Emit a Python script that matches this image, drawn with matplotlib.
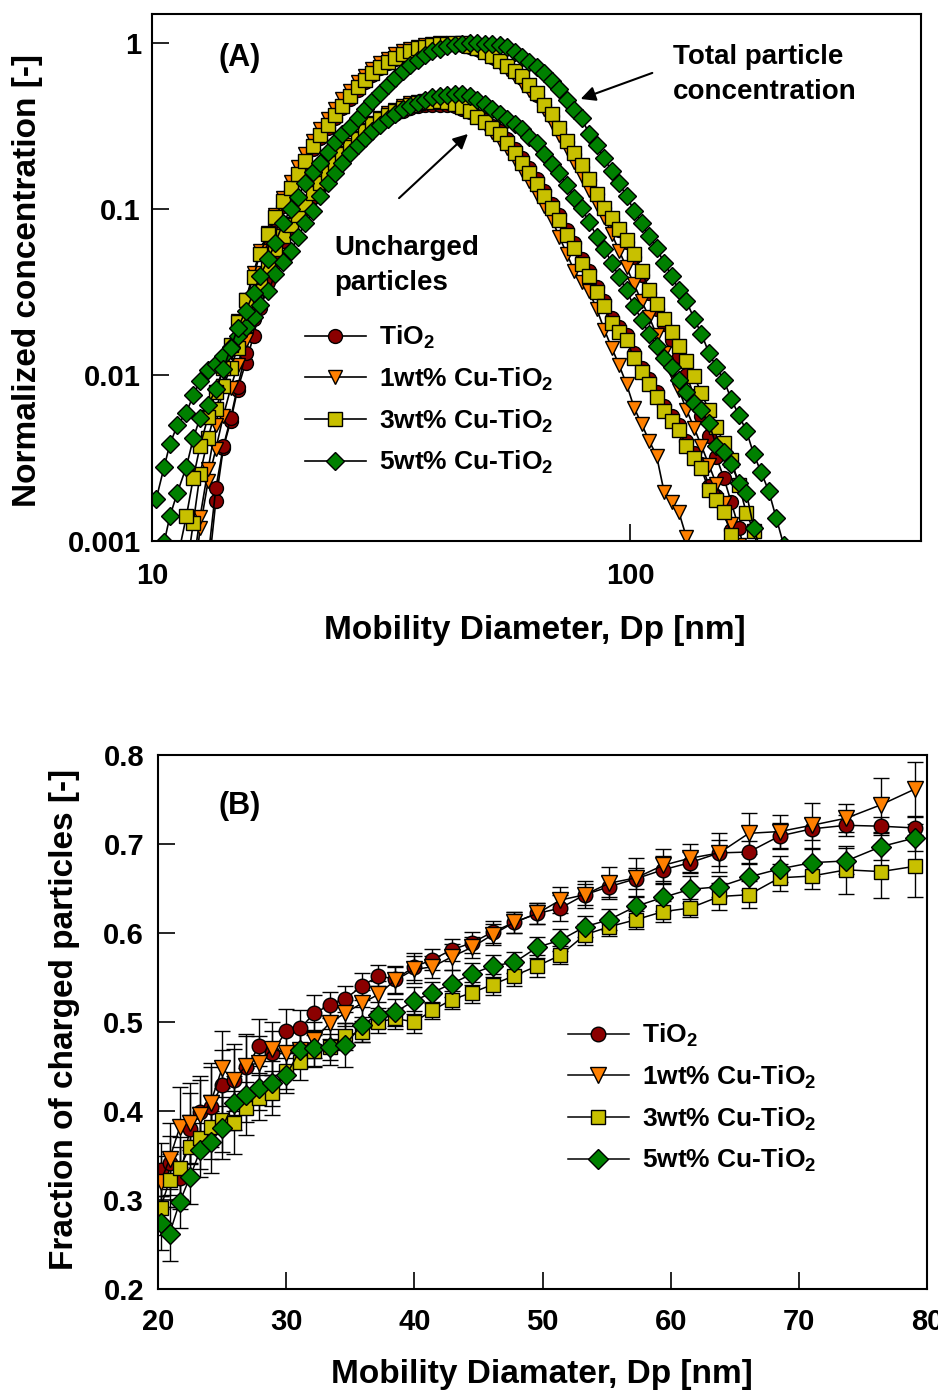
import matplotlib
matplotlib.use("Agg")
import matplotlib.pyplot as plt
from matplotlib.ticker import NullLocator
import numpy as np

plt.rcParams['font.family'] = ['Liberation Sans', 'DejaVu Sans']
plt.rcParams['font.weight'] = 'bold'
plt.rcParams['mathtext.fontset'] = 'custom'
plt.rcParams['mathtext.rm'] = 'Liberation Sans:bold'
plt.rcParams['mathtext.bf'] = 'Liberation Sans:bold'
plt.rcParams['mathtext.default'] = 'bf'

# SMPS channel midpoints [nm]
dp_a = [10.2, 10.6, 10.9, 11.3, 11.8, 12.2, 12.6, 13.1, 13.6, 14.1, 14.6, 15.1, 15.7, 16.3, 16.8,
        17.5, 18.1, 18.8, 19.5, 20.2, 20.9, 21.7, 22.5, 23.3, 24.1, 25.0, 25.9, 26.9, 27.9, 28.9,
        30.0, 31.1, 32.2, 33.4, 34.6, 35.9, 37.2, 38.5, 40.0, 41.4, 42.9, 44.5, 46.1, 47.8, 49.6,
        51.4, 53.3, 55.2, 57.3, 59.4, 61.5, 63.8, 66.1, 68.5, 71.0, 73.7, 76.4, 79.1, 82.0, 85.1,
        88.2, 91.4, 94.7, 98.2, 101.8, 105.5, 109.4, 113.4, 117.6, 121.9, 126.3, 131.0, 135.8,
        140.7, 145.9, 151.2, 156.8, 162.5, 168.5, 174.7, 181.1, 187.7, 194.6, 201.7, 209.1]

labels = ['TiO$_2$', '1wt% Cu-TiO$_2$', '3wt% Cu-TiO$_2$', '5wt% Cu-TiO$_2$']
colors = ['#8b0000', '#ff8000', '#c8c000', '#008000']
markers = ['o', 'v', 's', 'D']

# panel A: normalized concentration, first channel index of each series
tot_tio2_first = 7
tot_tio2 = [0.00079, 0.00209, 0.00372, 0.00550, 0.00851, 0.0135, 0.0219, 0.0363, 0.0589, 0.0804,
            0.105, 0.129, 0.158, 0.191, 0.232, 0.269, 0.309, 0.355, 0.407, 0.462, 0.525, 0.582,
            0.646, 0.705, 0.755, 0.807, 0.851, 0.891, 0.929, 0.955, 0.977, 0.993, 1.0, 0.995,
            0.982, 0.951, 0.920, 0.881, 0.828, 0.776, 0.724, 0.668, 0.617, 0.550, 0.490, 0.422,
            0.363, 0.305, 0.254, 0.214, 0.180, 0.150, 0.123, 0.101, 0.0871, 0.0750, 0.0638,
            0.0513, 0.0401, 0.0313, 0.0251, 0.0202, 0.0162, 0.0131, 0.0100, 0.00753, 0.00569,
            0.00430, 0.00321, 0.00240, 0.00171, 0.00120, 0.00078]
tot_1wt_first = 5
tot_1wt = [0.00071, 0.00139, 0.00271, 0.00501, 0.00861, 0.0138, 0.0212, 0.0285, 0.0414, 0.0556,
           0.0719, 0.0920, 0.116, 0.145, 0.179, 0.216, 0.257, 0.302, 0.349, 0.404, 0.458, 0.516,
           0.581, 0.638, 0.702, 0.759, 0.805, 0.857, 0.894, 0.927, 0.955, 0.973, 0.991, 1.0,
           0.993, 0.982, 0.966, 0.940, 0.910, 0.869, 0.811, 0.759, 0.703, 0.638, 0.579, 0.526,
           0.479, 0.399, 0.334, 0.280, 0.234, 0.193, 0.159, 0.131, 0.108, 0.0891, 0.0710, 0.0562,
           0.0445, 0.0352, 0.0279, 0.0225, 0.0175, 0.0136, 0.0105, 0.00813, 0.00619, 0.00482,
           0.00376, 0.00288, 0.00221, 0.00170, 0.00127, 0.00094, 0.00071]
tot_3wt_first = 3
tot_3wt = [0.00078, 0.00141, 0.00240, 0.00372, 0.00562, 0.00794, 0.0111, 0.0151, 0.0209, 0.0282,
           0.0389, 0.0537, 0.0708, 0.0891, 0.112, 0.135, 0.162, 0.195, 0.240, 0.278, 0.321, 0.368,
           0.421, 0.479, 0.543, 0.598, 0.661, 0.718, 0.766, 0.817, 0.859, 0.898, 0.935, 0.955,
           0.977, 0.991, 0.995, 1.0, 0.998, 0.959, 0.931, 0.891, 0.836, 0.783, 0.733, 0.679,
           0.631, 0.562, 0.501, 0.427, 0.372, 0.310, 0.257, 0.217, 0.184, 0.151, 0.124, 0.102,
           0.0881, 0.0759, 0.0650, 0.0533, 0.0425, 0.0327, 0.0267, 0.0219, 0.0181, 0.0149,
           0.0122, 0.00989, 0.00780, 0.00614, 0.00488, 0.00389, 0.00309, 0.00219, 0.00148,
           0.00115, 0.00074]
tot_5wt_first = 0
tot_5wt = [0.00063, 0.00098, 0.00141, 0.00196, 0.00280, 0.00416, 0.00552, 0.00661, 0.00820,
           0.0109, 0.0145, 0.0191, 0.0244, 0.0311, 0.0395, 0.0498, 0.0627, 0.0824, 0.100, 0.119,
           0.144, 0.167, 0.191, 0.221, 0.253, 0.282, 0.313, 0.354, 0.400, 0.449, 0.502, 0.562,
           0.618, 0.679, 0.740, 0.796, 0.855, 0.895, 0.927, 0.962, 0.979, 0.989, 1.0, 0.998,
           0.995, 0.986, 0.971, 0.944, 0.891, 0.824, 0.773, 0.715, 0.664, 0.592, 0.528, 0.454,
           0.398, 0.352, 0.284, 0.242, 0.202, 0.169, 0.143, 0.120, 0.0977, 0.0826, 0.0686,
           0.0586, 0.0473, 0.0398, 0.0324, 0.0279, 0.0219, 0.0178, 0.0136, 0.0112, 0.00931,
           0.00716, 0.00573, 0.00462, 0.00333, 0.00259, 0.00200, 0.00138, 0.00095]

unc_tio2_first = 7
unc_tio2 = [0.00063, 0.00175, 0.00366, 0.00526, 0.00818, 0.0119, 0.0171, 0.0252, 0.0365, 0.0504,
            0.0646, 0.0762, 0.0877, 0.102, 0.119, 0.137, 0.158, 0.182, 0.204, 0.226, 0.252,
            0.281, 0.310, 0.333, 0.353, 0.372, 0.389, 0.407, 0.416, 0.422, 0.425, 0.427, 0.425,
            0.417, 0.403, 0.387, 0.365, 0.343, 0.318, 0.297, 0.263, 0.232, 0.204, 0.178, 0.152,
            0.129, 0.108, 0.0918, 0.0750, 0.0628, 0.0501, 0.0423, 0.0339, 0.0278, 0.0221,
            0.0195, 0.0175, 0.0136, 0.0111, 0.00942, 0.00791, 0.00649, 0.00565, 0.00498,
            0.00400, 0.00340, 0.00293, 0.00216, 0.00188, 0.00160, 0.00116, 0.00079]
unc_1wt_first = 5
unc_1wt = [0.00050, 0.00119, 0.00229, 0.00360, 0.00569, 0.00832, 0.0115, 0.0163, 0.0228, 0.0317,
           0.0432, 0.0573, 0.0708, 0.0817, 0.0940, 0.110, 0.128, 0.147, 0.170, 0.195, 0.219,
           0.243, 0.270, 0.301, 0.332, 0.356, 0.378, 0.398, 0.417, 0.435, 0.442, 0.447, 0.447,
           0.445, 0.437, 0.425, 0.407, 0.385, 0.359, 0.325, 0.292, 0.262, 0.233, 0.200, 0.172,
           0.148, 0.124, 0.104, 0.0869, 0.0682, 0.0536, 0.0421, 0.0365, 0.0319, 0.0249, 0.0188,
           0.0146, 0.0115, 0.00879, 0.00637, 0.00508, 0.00403, 0.00327, 0.00198, 0.00173,
           0.00149, 0.00105, 0.00065]
unc_3wt_first = 4
unc_3wt = [0.00066, 0.00129, 0.00253, 0.00417, 0.00625, 0.00861, 0.0110, 0.0145, 0.0200, 0.0268,
           0.0346, 0.0446, 0.0573, 0.0690, 0.0798, 0.0918, 0.107, 0.125, 0.144, 0.166, 0.191,
           0.214, 0.237, 0.264, 0.294, 0.324, 0.348, 0.370, 0.389, 0.407, 0.427, 0.436, 0.442,
           0.445, 0.447, 0.443, 0.433, 0.411, 0.389, 0.361, 0.333, 0.308, 0.285, 0.249, 0.217,
           0.191, 0.166, 0.142, 0.120, 0.101, 0.0857, 0.0700, 0.0586, 0.0468, 0.0394, 0.0316,
           0.0259, 0.0207, 0.0182, 0.0163, 0.0126, 0.0104, 0.00879, 0.00738, 0.00605, 0.00527,
           0.00465, 0.00373, 0.00318, 0.00274, 0.00202, 0.00176, 0.00149, 0.00109, 0.00071]
unc_5wt_first = 0
unc_5wt = [0.00178, 0.00279, 0.00384, 0.00499, 0.00593, 0.00757, 0.00920, 0.0108, 0.0117, 0.0131,
           0.0147, 0.0172, 0.0195, 0.0224, 0.0265, 0.0320, 0.0406, 0.0483, 0.0561, 0.0681,
           0.0822, 0.0968, 0.120, 0.143, 0.166, 0.191, 0.218, 0.243, 0.269, 0.295, 0.322, 0.349,
           0.376, 0.404, 0.421, 0.437, 0.456, 0.471, 0.483, 0.489, 0.493, 0.491, 0.479, 0.455,
           0.430, 0.401, 0.376, 0.350, 0.327, 0.303, 0.274, 0.249, 0.215, 0.187, 0.164, 0.139,
           0.117, 0.101, 0.0836, 0.0682, 0.0578, 0.0474, 0.0392, 0.0324, 0.0259, 0.0216, 0.0177,
           0.0149, 0.0126, 0.0112, 0.00940, 0.00793, 0.00678, 0.00612, 0.00515, 0.00375,
           0.00343, 0.00292, 0.00225, 0.00196, 0.00119, 0.00086]

# panel B: fraction of charged particles, channels 20.2 .. 79.1 nm
dp_b = dp_a[19:58]
frac_tio2 = [0.334, 0.342, 0.325, 0.380, 0.399, 0.405, 0.429, 0.435, 0.449, 0.473, 0.465, 0.490,
             0.493, 0.510, 0.519, 0.526, 0.540, 0.552, 0.548, 0.562, 0.570, 0.581, 0.589, 0.601,
             0.612, 0.622, 0.628, 0.643, 0.652, 0.661, 0.671, 0.679, 0.690, 0.691, 0.709, 0.717,
             0.721, 0.720, 0.718]
frac_1wt = [0.320, 0.346, 0.382, 0.387, 0.395, 0.409, 0.448, 0.435, 0.451, 0.454, 0.470, 0.465,
            0.469, 0.480, 0.499, 0.510, 0.521, 0.531, 0.547, 0.559, 0.562, 0.573, 0.584, 0.598,
            0.612, 0.622, 0.637, 0.643, 0.656, 0.662, 0.676, 0.684, 0.690, 0.712, 0.714, 0.721,
            0.729, 0.744, 0.762]
frac_3wt = [0.291, 0.322, 0.336, 0.360, 0.370, 0.382, 0.390, 0.387, 0.403, 0.415, 0.420, 0.445,
            0.455, 0.467, 0.472, 0.484, 0.489, 0.500, 0.504, 0.500, 0.513, 0.525, 0.533, 0.542,
            0.552, 0.563, 0.575, 0.598, 0.607, 0.615, 0.624, 0.628, 0.641, 0.643, 0.662, 0.664,
            0.671, 0.669, 0.675]
frac_5wt = [0.274, 0.262, 0.298, 0.326, 0.356, 0.365, 0.381, 0.409, 0.418, 0.426, 0.431, 0.440,
            0.469, 0.471, 0.472, 0.474, 0.497, 0.508, 0.511, 0.524, 0.533, 0.543, 0.554, 0.563,
            0.567, 0.584, 0.592, 0.607, 0.615, 0.630, 0.640, 0.649, 0.652, 0.663, 0.672, 0.679,
            0.681, 0.697, 0.707]
err_tio2 = [0.03, 0.03, 0.035, 0.04, 0.04, 0.045, 0.04, 0.035, 0.035, 0.03, 0.025, 0.025, 0.02,
            0.02, 0.015, 0.015, 0.015, 0.012, 0.015, 0.015, 0.012, 0.012, 0.012, 0.012, 0.012,
            0.012, 0.015, 0.012, 0.012, 0.012, 0.015, 0.012, 0.015, 0.012, 0.015, 0.012, 0.012,
            0.01, 0.012]
err_1wt = [0.03, 0.04, 0.045, 0.045, 0.04, 0.045, 0.042, 0.04, 0.035, 0.03, 0.03, 0.025, 0.02,
           0.02, 0.018, 0.015, 0.015, 0.015, 0.015, 0.015, 0.012, 0.015, 0.012, 0.012, 0.012,
           0.012, 0.015, 0.015, 0.018, 0.022, 0.018, 0.016, 0.022, 0.023, 0.019, 0.025, 0.016,
           0.03, 0.03]
err_3wt = [0.03, 0.03, 0.035, 0.035, 0.035, 0.036, 0.036, 0.035, 0.03, 0.025, 0.025, 0.02, 0.02,
           0.018, 0.015, 0.015, 0.012, 0.012, 0.012, 0.012, 0.01, 0.01, 0.012, 0.012, 0.012,
           0.012, 0.01, 0.012, 0.01, 0.01, 0.012, 0.01, 0.015, 0.015, 0.015, 0.015, 0.027, 0.03,
           0.035]
err_5wt = [0.03, 0.03, 0.03, 0.03, 0.03, 0.035, 0.035, 0.03, 0.03, 0.025, 0.025, 0.02, 0.02,
           0.02, 0.02, 0.025, 0.02, 0.015, 0.015, 0.015, 0.012, 0.015, 0.012, 0.012, 0.012,
           0.012, 0.012, 0.012, 0.012, 0.012, 0.015, 0.015, 0.012, 0.015, 0.015, 0.015, 0.015,
           0.015, 0.015]

tot_series = [(tot_tio2_first, tot_tio2), (tot_1wt_first, tot_1wt),
              (tot_3wt_first, tot_3wt), (tot_5wt_first, tot_5wt)]
unc_series = [(unc_tio2_first, unc_tio2), (unc_1wt_first, unc_1wt),
              (unc_3wt_first, unc_3wt), (unc_5wt_first, unc_5wt)]
frac_series = [frac_tio2, frac_1wt, frac_3wt, frac_5wt]
err_series = [err_tio2, err_1wt, err_3wt, err_5wt]
msizes = [10, 10.5, 9.5, 9.5]

fig = plt.figure(figsize=(9.38, 13.93), dpi=100)
axA = fig.add_axes([152/938, 1-541/1393, 769/938, 527/1393])
axB = fig.add_axes([158/938, 1-1289/1393, 769/938, 534/1393])

# ---- panel A
handlesA = []
for i in range(4):
    for first, vals in (unc_series[i], tot_series[i]):
        x = dp_a[first:first+len(vals)]
        h, = axA.plot(x, vals, '-', color='black', lw=1.2, marker=markers[i], ms=msizes[i],
                      mfc=colors[i], mec='black', mew=1.0)
    handlesA.append(h)

axA.set_xscale('log')
axA.set_yscale('log')
axA.set_xlim(10, 405)
axA.set_ylim(0.001, 1.5)
axA.set_xticks([10, 100])
axA.set_xticklabels(['10', '100'])
axA.set_yticks([0.001, 0.01, 0.1, 1])
axA.set_yticklabels(['0.001', '0.01', '0.1', '1'])
axA.xaxis.set_minor_locator(NullLocator())
axA.yaxis.set_minor_locator(NullLocator())
axA.tick_params(direction='in', length=12, width=1.2, labelsize=21)
axA.tick_params(axis='x', pad=15)
axA.tick_params(axis='y', pad=8)

axA.set_xlabel('Mobility Diameter, Dp [nm]', fontsize=24, fontweight='bold')
axA.set_ylabel('Normalized concentration [-]', fontsize=24, fontweight='bold')
axA.xaxis.label.set_verticalalignment('center')
axA.yaxis.label.set_verticalalignment('center')
axA.xaxis.set_label_coords(0.498, -0.17)
axA.yaxis.set_label_coords(-0.1625, 0.495)

axA.text(0.114, 0.917, '(A)', transform=axA.transAxes, fontsize=22, ha='center', va='center')
axA.text(0.6775, 0.943, 'Total particle\nconcentration', transform=axA.transAxes,
         fontsize=20, ha='left', va='top', linespacing=1.45)
axA.annotate('', xy=(0.554, 0.837), xytext=(0.654, 0.890), xycoords='axes fraction',
             arrowprops=dict(arrowstyle='-|>', color='black', lw=1.5, mutation_scale=22))
axA.text(0.237, 0.580, 'Uncharged\nparticles', transform=axA.transAxes,
         fontsize=20, ha='left', va='top', linespacing=1.45)
axA.annotate('', xy=(0.4135, 0.776), xytext=(0.3186, 0.647), xycoords='axes fraction',
             arrowprops=dict(arrowstyle='-|>', color='black', lw=1.5, mutation_scale=22))

axA.legend(handlesA, labels, loc='upper left', bbox_to_anchor=(0.199, 0.412), frameon=False,
           fontsize=19, handlelength=2.3, handletextpad=0.5, labelspacing=0.55,
           borderaxespad=0, borderpad=0)

# ---- panel B
handlesB = []
for i in range(4):
    cont = axB.errorbar(dp_b, frac_series[i], yerr=err_series[i], fmt='-', color='black',
                        lw=1.1, marker=markers[i], ms=msizes[i] + 0.5, mfc=colors[i],
                        mec='black', mew=1.0, ecolor='black', elinewidth=1.0,
                        capsize=6, capthick=1.0)
    handlesB.append(cont[0])

axB.set_xlim(20, 80)
axB.set_ylim(0.2, 0.8)
axB.set_xticks([20, 30, 40, 50, 60, 70, 80])
axB.set_yticks([0.2, 0.3, 0.4, 0.5, 0.6, 0.7, 0.8])
axB.set_yticklabels(['0.2', '0.3', '0.4', '0.5', '0.6', '0.7', '0.8'])
axB.tick_params(direction='in', length=12, width=1.2, labelsize=21)
axB.tick_params(axis='x', pad=14)
axB.tick_params(axis='y', pad=10)
axB.set_xlabel('Mobility Diamater, Dp [nm]', fontsize=24, fontweight='bold')
axB.set_ylabel('Fraction of charged particles [-]', fontsize=24, fontweight='bold')
axB.xaxis.label.set_verticalalignment('center')
axB.yaxis.label.set_verticalalignment('center')
axB.xaxis.set_label_coords(0.499, -0.16)
axB.yaxis.set_label_coords(-0.121, 0.504)

axB.text(0.1066, 0.9045, '(B)', transform=axB.transAxes, fontsize=22, ha='center', va='center')
axB.legend(handlesB, labels, loc='upper left', bbox_to_anchor=(0.533, 0.50), frameon=False,
           fontsize=19, handlelength=2.3, handletextpad=0.5, labelspacing=0.55,
           borderaxespad=0, borderpad=0)

for ax in (axA, axB):
    for s in ax.spines.values():
        s.set_linewidth(1.5)

fig.savefig('out.png', dpi=100)
